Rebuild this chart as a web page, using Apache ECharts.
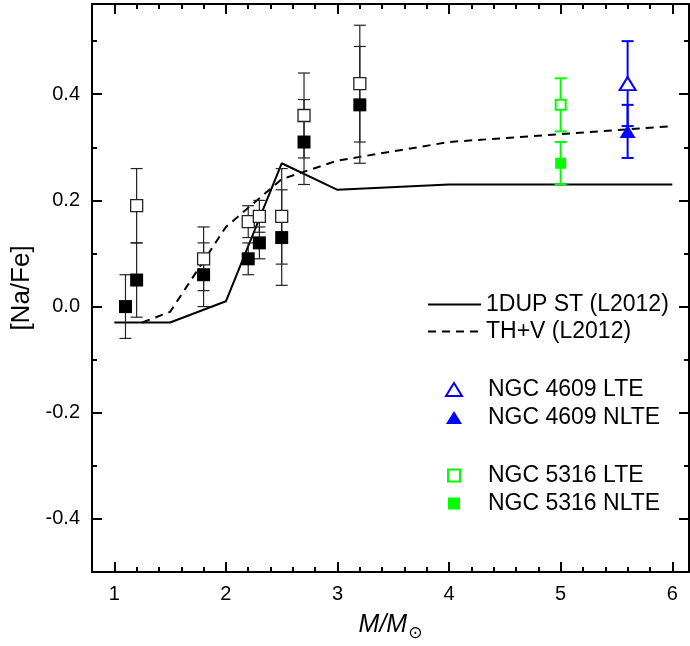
<!DOCTYPE html>
<html>
<head>
<meta charset="utf-8">
<script src="https://cdn.jsdelivr.net/npm/echarts@6/dist/echarts.min.js"></script>
<style>
html,body{margin:0;padding:0;background:#fff;}
#chart{width:690px;height:646px;}
</style>
</head>
<body>
<div id="chart"></div>
<script>
// ---- data ----
const clusterMass     = [1.1, 1.2, 1.8, 2.2, 2.3, 2.5, 2.7, 3.2];
const clusterLTE      = [null, 0.19, 0.09, 0.16, 0.17, 0.17, 0.36, 0.42];
const clusterLTEerr   = [null, 0.07, 0.06, 0.03, 0.03, 0.09, 0.08, 0.11];
const clusterNLTE     = [0.00, 0.05, 0.06, 0.09, 0.12, 0.13, 0.31, 0.38];
const clusterNLTEerr  = [0.06, 0.07, 0.06, 0.03, 0.03, 0.09, 0.08, 0.11];

const ngc4609Mass = [5.6];
const ngc4609LTE = [0.42], ngc4609LTEerr = [0.08];
const ngc4609NLTE = [0.33], ngc4609NLTEerr = [0.05];

const ngc5316Mass = [5.0];
const ngc5316LTE = [0.38], ngc5316LTEerr = [0.05];
const ngc5316NLTE = [0.27], ngc5316NLTEerr = [0.04];

const dupMass = [1.0, 1.5, 2.0, 2.5, 3.0, 4.0, 6.0];
const dupNa   = [-0.03, -0.03, 0.01, 0.27, 0.22, 0.23, 0.23];
const thvMass = [1.25, 1.5, 2.0, 2.5, 3.0, 4.0, 5.0, 6.0];
const thvNa   = [-0.03, -0.01, 0.15, 0.24, 0.275, 0.31, 0.325, 0.34];

const xMajorTicks = [1, 2, 3, 4, 5, 6];
const xMinorTicks = [1.2,1.4,1.6,1.8,2.2,2.4,2.6,2.8,3.2,3.4,3.6,3.8,4.2,4.4,4.6,4.8,5.2,5.4,5.6,5.8];
const yMajorTicks = [-0.4, -0.2, 0, 0.2, 0.4];
const yMinorTicks = [-0.5, -0.3, -0.1, 0.1, 0.3, 0.5];

const XMIN = 0.8, XMAX = 6.15, YMIN = -0.5, YMAX = 0.57;

// ---- helpers ----
const FONT = 'Liberation Sans, Arial, sans-serif';
function pairs(xs, ys) {
  const out = [];
  for (let i = 0; i < xs.length; i++) if (ys[i] !== null) out.push([xs[i], ys[i]]);
  return out;
}
function errs(xs, ys, es) {
  const out = [];
  for (let i = 0; i < xs.length; i++) if (ys[i] !== null) out.push([xs[i], ys[i] - es[i], ys[i] + es[i]]);
  return out;
}
function errSeries(name, data, color, width, cap) {
  return {
    name: name, type: 'custom', data: data, z: 3, silent: true,
    encode: {x: 0, y: [1, 2]},
    renderItem: function (params, api) {
      const x = api.value(0);
      const lo = api.coord([x, api.value(1)]);
      const hi = api.coord([x, api.value(2)]);
      const st = {stroke: color, lineWidth: width};
      return {type: 'group', children: [
        {type: 'line', shape: {x1: lo[0], y1: lo[1], x2: hi[0], y2: hi[1]}, style: st},
        {type: 'line', shape: {x1: lo[0] - cap, y1: lo[1], x2: lo[0] + cap, y2: lo[1]}, style: st},
        {type: 'line', shape: {x1: hi[0] - cap, y1: hi[1], x2: hi[0] + cap, y2: hi[1]}, style: st}
      ]};
    }
  };
}
function axis(isX, pos, ticks, len, line, labels, extra) {
  const a = {
    type: 'value', position: pos,
    min: isX ? XMIN : YMIN, max: isX ? XMAX : YMAX,
    axisLine: {show: line, onZero: false, lineStyle: {color: '#000', width: 2}},
    axisTick: {show: true, inside: true, length: len, customValues: ticks, lineStyle: {color: '#000', width: 2}},
    axisLabel: labels ? Object.assign({customValues: ticks, fontSize: 20, color: '#000', fontFamily: FONT, margin: 12}, labels) : {show: false},
    splitLine: {show: false}
  };
  return Object.assign(a, extra || {});
}
const legendText = {fontSize: 23, fontFamily: FONT, color: '#000'};

const option = {
  animation: false,
  backgroundColor: '#fff',
  grid: {left: 92, right: 1, top: 4, bottom: 74, containLabel: false, outerBoundsMode: 'none'},
  xAxis: [
    axis(true, 'bottom', xMajorTicks, 10, true, {}, {
      name: '{i|M/M}{s|⊙}', nameLocation: 'middle', nameGap: 37,
      nameTextStyle: {color: '#000', rich: {
        i: {fontStyle: 'italic', fontSize: 25, fontFamily: FONT, color: '#000'},
        s: {fontSize: 17, fontFamily: 'DejaVu Sans', color: '#000', padding: [16, 0, 0, 1]}
      }}
    }),
    axis(true, 'bottom', xMinorTicks, 5, false, null),
    axis(true, 'top', xMajorTicks, 10, true, null),
    axis(true, 'top', xMinorTicks, 5, false, null)
  ],
  yAxis: [
    axis(false, 'left', yMajorTicks, 10, true, {formatter: v => v.toFixed(1)}, {
      name: '[Na/Fe]', nameLocation: 'middle', nameGap: 48,
      nameTextStyle: {color: '#000', fontSize: 26, fontFamily: FONT}
    }),
    axis(false, 'left', yMinorTicks, 5, false, null),
    axis(false, 'right', yMajorTicks, 10, true, null),
    axis(false, 'right', yMinorTicks, 5, false, null)
  ],
  legend: [
    {left: 427, top: 293, padding: 0, orient: 'vertical', itemWidth: 53, itemHeight: 14, itemGap: 4,
     textStyle: legendText,
     data: [{name: '1DUP ST (L2012)', itemStyle: {opacity: 0}},
            {name: 'TH+V (L2012)', itemStyle: {opacity: 0}}]},
    {left: 445, top: 378, padding: 0, orient: 'vertical', itemWidth: 16, itemHeight: 13, itemGap: 5,
     textStyle: Object.assign({padding: [0, 0, 0, 21]}, legendText),
     data: ['NGC 4609 LTE', 'NGC 4609 NLTE']},
    {left: 447, top: 464, padding: 0, orient: 'vertical', itemWidth: 12, itemHeight: 12, itemGap: 5,
     textStyle: Object.assign({padding: [0, 0, 0, 23]}, legendText),
     data: ['NGC 5316 LTE', 'NGC 5316 NLTE']}
  ],
  series: [
    {name: '1DUP ST (L2012)', type: 'line', data: pairs(dupMass, dupNa), symbol: 'none', z: 2,
     lineStyle: {color: '#000', width: 2}, itemStyle: {color: '#000'}},
    {name: 'TH+V (L2012)', type: 'line', data: pairs(thvMass, thvNa), symbol: 'none', z: 2,
     lineStyle: {color: '#000', width: 2, type: [8, 6]}, itemStyle: {color: '#000'}},

    errSeries('errClusterLTE', errs(clusterMass, clusterLTE, clusterLTEerr), '#222', 1.2, 6),
    errSeries('errClusterNLTE', errs(clusterMass, clusterNLTE, clusterNLTEerr), '#222', 1.2, 6),
    errSeries('err5316LTE', errs(ngc5316Mass, ngc5316LTE, ngc5316LTEerr), '#00ff00', 2, 6),
    errSeries('err5316NLTE', errs(ngc5316Mass, ngc5316NLTE, ngc5316NLTEerr), '#00ff00', 2, 6),
    errSeries('err4609LTE', errs(ngc4609Mass, ngc4609LTE, ngc4609LTEerr), '#0000ff', 2, 6),
    errSeries('err4609NLTE', errs(ngc4609Mass, ngc4609NLTE, ngc4609NLTEerr), '#0000ff', 2, 6),

    {name: 'Clusters LTE', type: 'scatter', data: pairs(clusterMass, clusterLTE), symbol: 'rect', symbolSize: 12, z: 5,
     itemStyle: {color: '#fff', borderColor: '#222', borderWidth: 1.3, opacity: 1}},
    {name: 'Clusters NLTE', type: 'scatter', data: pairs(clusterMass, clusterNLTE), symbol: 'rect', symbolSize: 13, z: 5,
     itemStyle: {color: '#000', borderWidth: 0, opacity: 1}},
    {name: 'NGC 5316 LTE', type: 'scatter', data: pairs(ngc5316Mass, ngc5316LTE), symbol: 'rect', symbolSize: 10, z: 5,
     itemStyle: {color: '#fff', borderColor: '#00ff00', borderWidth: 2, opacity: 1}},
    {name: 'NGC 5316 NLTE', type: 'scatter', data: pairs(ngc5316Mass, ngc5316NLTE), symbol: 'rect', symbolSize: 11, z: 5,
     itemStyle: {color: '#00ff00', borderWidth: 0, opacity: 1}},
    {name: 'NGC 4609 LTE', type: 'scatter', data: pairs(ngc4609Mass, ngc4609LTE), symbol: 'triangle', symbolSize: [16, 13], z: 5,
     itemStyle: {color: '#fff', borderColor: '#0000ff', borderWidth: 2, opacity: 1}},
    {name: 'NGC 4609 NLTE', type: 'scatter', data: pairs(ngc4609Mass, ngc4609NLTE), symbol: 'triangle', symbolSize: [16, 13], z: 5,
     itemStyle: {color: '#0000ff', borderWidth: 0, opacity: 1}}
  ]
};

const chart = echarts.init(document.getElementById('chart'), null, {renderer: 'canvas'});
chart.setOption(option);
</script>
</body>
</html>
